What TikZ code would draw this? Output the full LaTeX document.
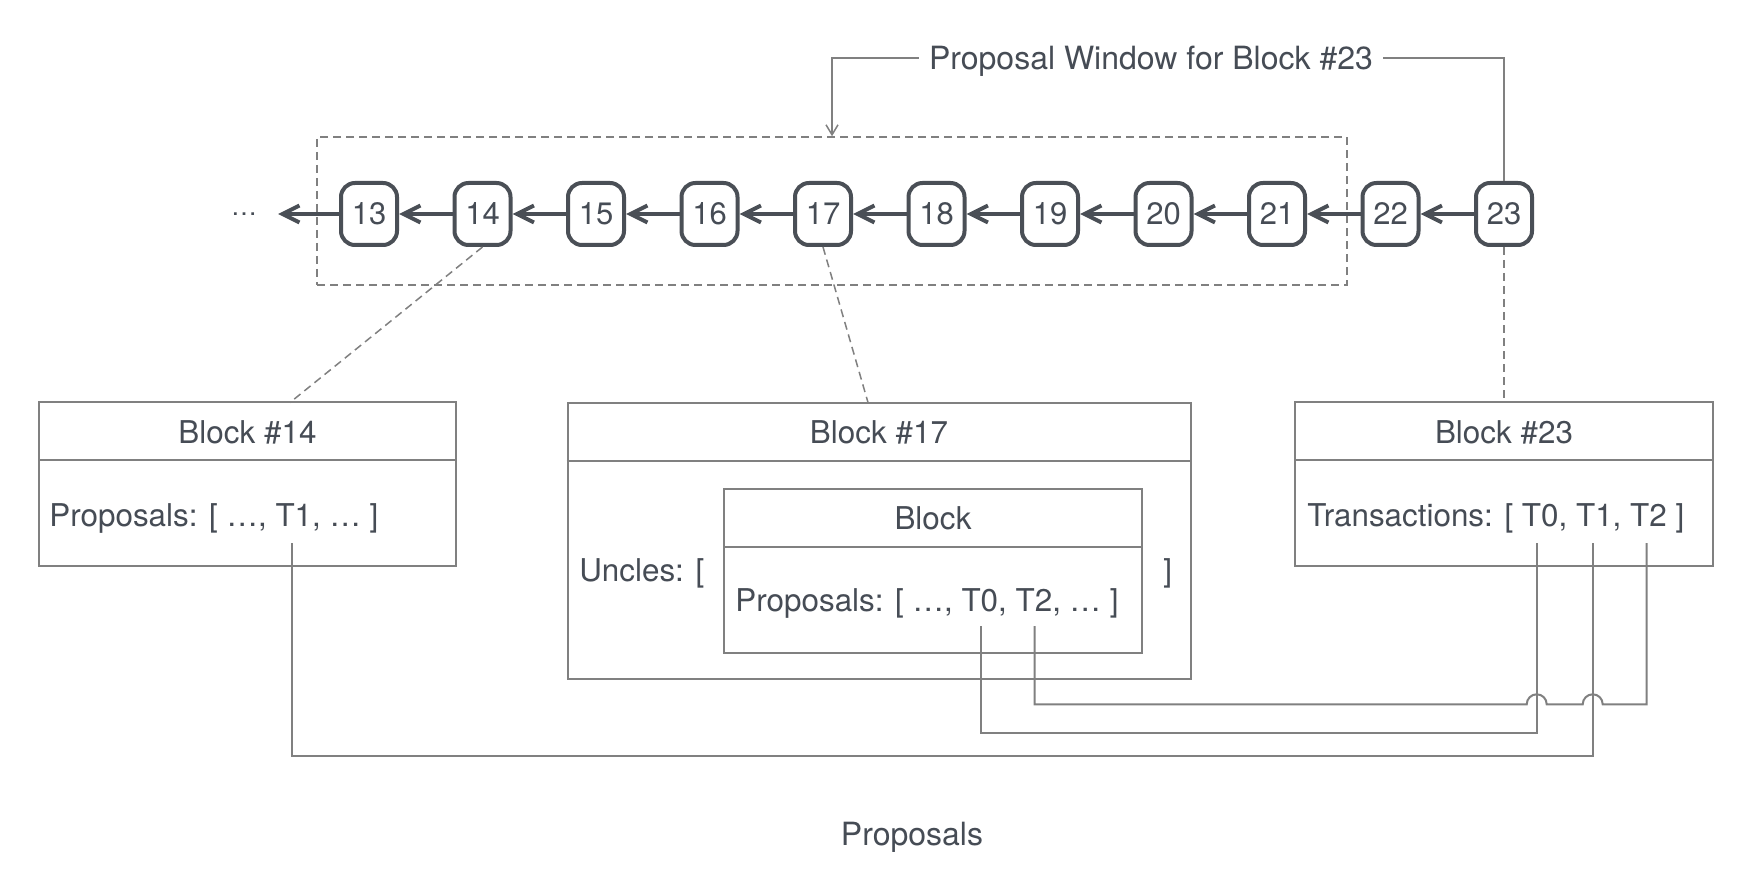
\documentclass[tikz,border=0pt]{standalone}
\usepackage{fontspec}
\setmainfont{TeX Gyre Heros}
\usetikzlibrary{arrows.meta}
\definecolor{txt}{HTML}{464C55}
\definecolor{dk}{HTML}{4A4F56}
\definecolor{ln}{HTML}{808080}
\begin{document}
\begin{tikzpicture}[x=0.5pt,y=-0.5pt,
  every node/.style={text=txt, font=\fontsize{15.7}{19}\selectfont},
  lbl/.style={text height=11.3pt, text depth=0pt, inner sep=0pt},
  blk/.style={draw=dk, line width=2pt, rounded corners=7pt, minimum width=28pt, minimum height=31pt, inner sep=0pt, fill=white, font=\fontsize{15.5}{18}\selectfont},
  chainarrow/.style={draw=dk, line width=2pt, -{Straight Barb[length=8.5pt,width=8.5pt]}},
  box/.style={draw=ln, line width=1pt, inner sep=0pt},
  wire/.style={draw=ln, line width=1pt},
  dsh/.style={draw=ln, line width=0.75pt, dash pattern=on 4pt off 2.5pt},
]
\useasboundingbox[fill=white] (0,0) rectangle (1761,882);

% proposal window
\node[dsh, minimum width=515pt, minimum height=74pt, inner sep=0pt] (win) at (832,211) {};

% chain nodes
\foreach \i [count=\k from 0] in {13,...,23}
  \node[blk] (n\i) at ({369+113.5*\k},214) {\i};
\foreach \i [evaluate=\i as \j using int(\i+1)] in {13,...,22}
  \draw[chainarrow] (n\j) -- (n\i);
\coordinate (dend) at (278,214);
\draw[chainarrow] (n13) -- (dend);
\node[anchor=base, font=\fontsize{13}{15}\selectfont, inner sep=0pt] (dots) at (244,216) {…};

% title
\node[lbl, inner xsep=5pt, font=\fontsize{16}{19}\selectfont] (title) at (1151,58) {Proposal Window for Block \#23};
\draw[draw=ln, line width=0.75pt, -{Straight Barb[length=5pt,width=6pt]}] (title.west) -| (win.north);
\draw[draw=ln, line width=0.75pt] (n23.north) |- (title.east);

% Block #14
\node[box, minimum width=208.5pt, minimum height=82pt] (b14) at (247.5,484.3) {};
\draw[box] ([yshift=-29.5pt]b14.north west) -- ([yshift=-29.5pt]b14.north east);
\node[lbl] (h14) at (247.5,432) {Block \#14};
\node[lbl, anchor=west] (p14) at (49,515) {Proposals: [ …, T1, … ]};

% Block #17
\node[box, minimum width=311.5pt, minimum height=138pt] (b17) at (879,540.5) {};
\draw[box] ([yshift=-29.5pt]b17.north west) -- ([yshift=-29.5pt]b17.north east);
\node[lbl] (h17) at (879,432) {Block \#17};
\node[lbl, anchor=west] (unc) at (579,570) {Uncles: [};
\node[lbl, anchor=west] (uncend) at (1163,570) {]};
\node[box, minimum width=209pt, minimum height=82pt] (u17) at (933,571) {};
\draw[box] ([yshift=-29.5pt]u17.north west) -- ([yshift=-29.5pt]u17.north east);
\node[lbl] (hu) at (933,518) {Block};
\node[lbl, anchor=west] (p17) at (735,600) {Proposals: [ …, T0, T2, … ]};

% Block #23
\node[box, minimum width=209pt, minimum height=82pt] (b23) at (1504,484.3) {};
\draw[box] ([yshift=-29.5pt]b23.north west) -- ([yshift=-29.5pt]b23.north east);
\node[lbl] (h23) at (1504,432) {Block \#23};
\node[lbl, anchor=west] (tx23) at (1307,515) {Transactions: [ T0, T1, T2 ]};

% dashed links from chain to blocks
\coordinate (c14) at (290,402.5);
\coordinate (c17) at (868,402.5);
\draw[dsh] (n14.south) -- (c14);
\draw[dsh] (n17.south) -- (c17);
\draw[dsh] (n23.south) -- (b23.north);

% proposal wires
\coordinate (p14t1) at (292,543);
\coordinate (p23t0) at (1536.7,543);
\coordinate (p23t1) at (1592.7,543);
\coordinate (p23t2) at (1646.7,543);
\coordinate (p17t0) at (980.8,626);
\coordinate (p17t2) at (1034.7,626);
\draw[wire] (p14t1) -- ++(0,212.7) -| (p23t1);
\draw[wire] (p17t0) -- ++(0,107.3) -| (p23t0);
\draw[wire] (p17t2) -- ++(0,78.3) -- (1526.7,704.3)
  arc[start angle=180, end angle=0, radius=5pt] -- (1582.7,704.3)
  arc[start angle=180, end angle=0, radius=5pt] -| (p23t2);

% caption
\node[lbl, font=\fontsize{16}{19}\selectfont] (cap) at (912,834) {Proposals};
\end{tikzpicture}
\end{document}
